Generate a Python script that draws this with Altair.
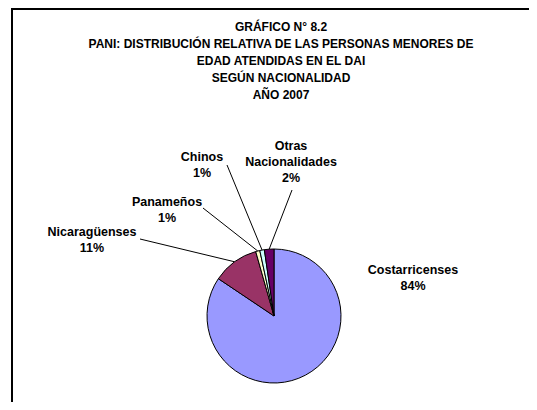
import altair as alt
import pandas as pd
import numpy as np

# ---- data ----
categories = ["Costarricenses", "Nicaragüenses", "Panameños", "Chinos", "Otras Nacionalidades"]
label_names = ["Costarricenses", "Nicaragüenses", "Panameños", "Chinos", "Otras\nNacionalidades"]
shares = [84.4, 11.2, 1.0, 1.1, 2.3]
colors = ["#9999FF", "#993366", "#FFFFCC", "#CCFFFF", "#660066"]

title_lines = [
    "GRÁFICO N° 8.2",
    "PANI: DISTRIBUCIÓN RELATIVA DE LAS PERSONAS MENORES DE",
    "EDAD ATENDIDAS EN EL DAI",
    "SEGÚN NACIONALIDAD",
    "AÑO 2007",
]

# ---- layout (pixels inside the chart) ----
W, H = 521, 394
CX, CY, R = 266, 308, 67
label_pos = [(405, 256), (84, 218), (159, 188), (194, 143), (283, 132)]
leader_end = [None, (132, 231), (195, 200), (219, 157), (284, 182)]

total = sum(shares)
df = pd.DataFrame({
    "cat": categories,
    "share": shares,
    "order": list(range(len(categories))),
})
df["label"] = [f"{n}\n{round(s / total * 100):.0f}%" for n, s in zip(label_names, shares)]
df["lx"] = [p[0] for p in label_pos]
df["ly"] = [p[1] for p in label_pos]

# leader lines: from slice mid-angle on the rim to the label
cum = np.cumsum([0] + shares[:-1])
rows = []
for i, (c, s) in enumerate(zip(cum, shares)):
    if leader_end[i] is None:
        continue
    a = (c + s / 2) / total * 2 * np.pi
    rows.append({
        "x": CX + R * np.sin(a), "y": CY - R * np.cos(a),
        "x2": leader_end[i][0], "y2": leader_end[i][1],
    })
leaders = pd.DataFrame(rows)

xs = alt.Scale(domain=[0, W], range=[0, W])
ys = alt.Scale(domain=[0, H], range=[0, H])
FONT = "Liberation Sans"

pie = alt.Chart(df).mark_arc(outerRadius=R, stroke="black", strokeWidth=1).encode(
    theta=alt.Theta("share:Q", stack=True),
    order=alt.Order("order:Q"),
    color=alt.Color("cat:N", scale=alt.Scale(domain=categories, range=colors), legend=None),
    x=alt.value(CX), y=alt.value(CY),
)

lines = alt.Chart(leaders).mark_rule(color="black", strokeWidth=1).encode(
    x=alt.X("x:Q", scale=xs, axis=None), y=alt.Y("y:Q", scale=ys, axis=None),
    x2="x2:Q", y2="y2:Q",
)

labels = alt.Chart(df).mark_text(
    font=FONT, fontSize=12.5, fontWeight="bold", align="center", baseline="top",
    lineBreak="\n", lineHeight=16, color="black",
).encode(
    x=alt.X("lx:Q", scale=xs, axis=None), y=alt.Y("ly:Q", scale=ys, axis=None),
    text="label:N",
)

title = alt.Chart(pd.DataFrame({"t": ["\n".join(title_lines)]})).mark_text(
    font=FONT, fontSize=12, fontWeight="bold", align="center", baseline="top",
    lineBreak="\n", lineHeight=17, color="black",
).encode(x=alt.value(273), y=alt.value(14), text="t:N")

frame_left = alt.Chart(pd.DataFrame({"a": [0]})).mark_rule(color="black", strokeWidth=2).encode(
    x=alt.value(4), y=alt.value(0), y2=alt.value(H))
frame_top = alt.Chart(pd.DataFrame({"a": [0]})).mark_rule(color="black", strokeWidth=2).encode(
    x=alt.value(4), x2=alt.value(W), y=alt.value(1))

chart = alt.layer(pie, lines, labels, title, frame_left, frame_top).properties(
    width=W, height=H, autosize=alt.AutoSizeParams(type="none"), padding=0,
).configure_view(stroke=None).resolve_scale(x="shared", y="shared")

chart.save("out.html", embed_options={"renderer": "svg", "actions": False})
